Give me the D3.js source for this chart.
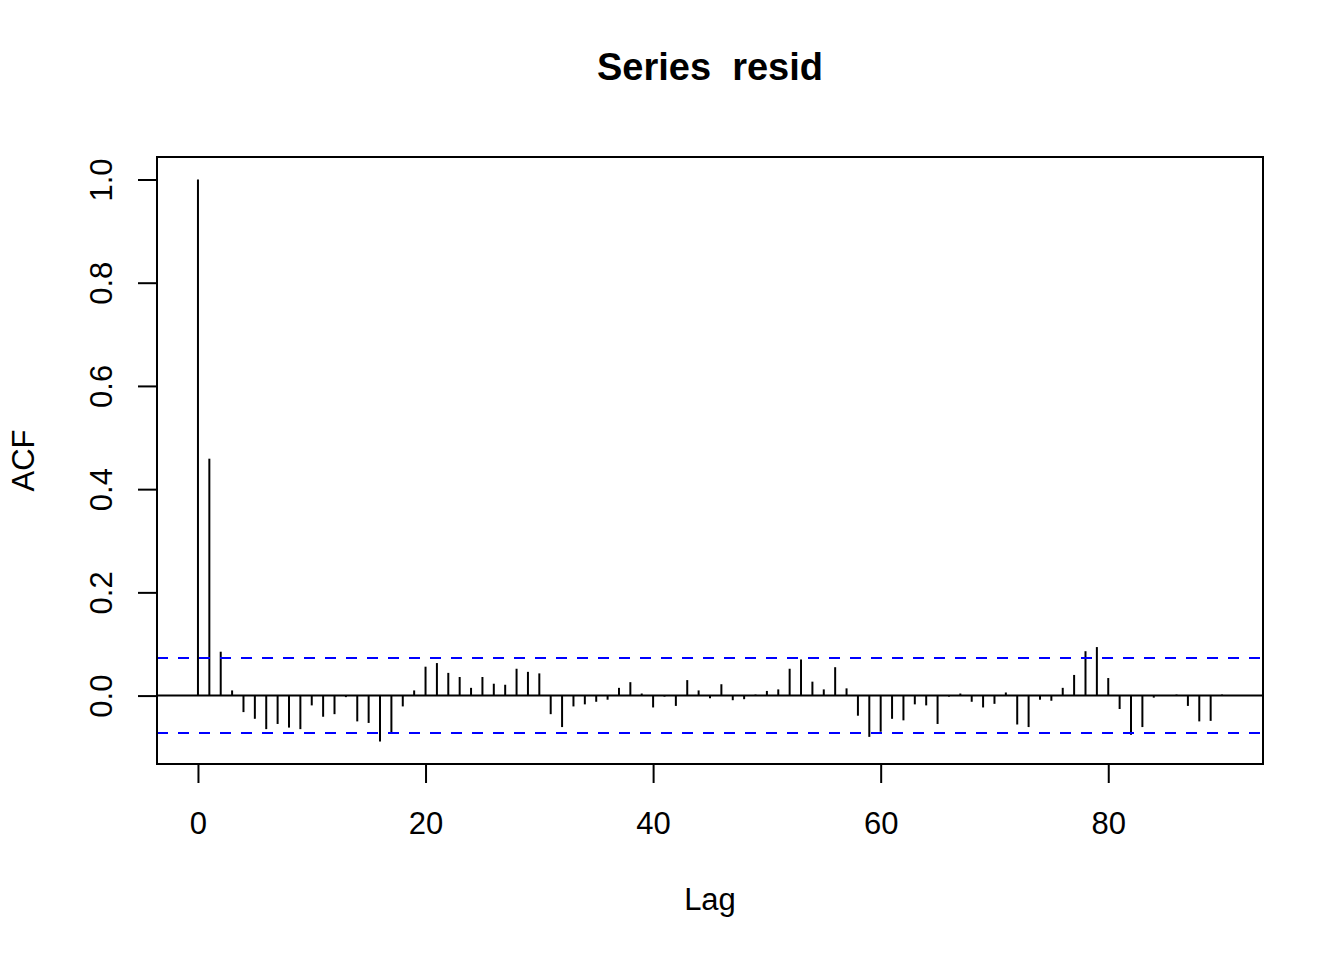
<!DOCTYPE html>
<html>
<head>
<meta charset="utf-8">
<script src="https://cdn.jsdelivr.net/npm/d3@7"></script>
<style>
  html, body { margin: 0; padding: 0; background: #fff; }
  svg { display: block; font-family: "Liberation Sans", Arial, Helvetica, sans-serif; }
</style>
</head>
<body>
<svg id="chart" width="1344" height="960"></svg>
<script>
const lags = d3.range(0, 91);
const acfValues = [
  1.000, 0.459, 0.085, 0.010, -0.032, -0.045, -0.065, -0.055, -0.062, -0.065,
  -0.019, -0.041, -0.036, -0.003, -0.050, -0.053, -0.089, -0.074, -0.021, 0.010,
  0.056, 0.063, 0.044, 0.036, 0.015, 0.036, 0.023, 0.021, 0.052, 0.046,
  0.043, -0.036, -0.061, -0.021, -0.017, -0.012, -0.008, 0.015, 0.026, 0.004,
  -0.023, -0.002, -0.020, 0.030, 0.010, -0.005, 0.022, -0.009, -0.007, 0.002,
  0.009, 0.012, 0.052, 0.070, 0.027, 0.012, 0.055, 0.014, -0.039, -0.080,
  -0.070, -0.045, -0.048, -0.017, -0.019, -0.055, -0.002, 0.004, -0.012, -0.023,
  -0.016, 0.006, -0.056, -0.061, -0.008, -0.010, 0.015, 0.040, 0.086, 0.094,
  0.034, -0.026, -0.076, -0.061, -0.004, 0.001, 0.002, -0.020, -0.050, -0.049,
  0.002
];
const ciBound = 0.0727;
const xTicks = [0, 20, 40, 60, 80];
const yTicks = [0.0, 0.2, 0.4, 0.6, 0.8, 1.0];
const yTickLabels = ["0.0", "0.2", "0.4", "0.6", "0.8", "1.0"];
const titleText = "Series  resid";
const xLabel = "Lag";
const yLabel = "ACF";

const plot = { left: 157, right: 1263, top: 157, bottom: 764 };
const svg = d3.select("#chart");

// R-style 4% extension
const xr = d3.extent(lags);
const xpad = (xr[1] - xr[0]) * 0.04;
const yr = [Math.min(d3.min(acfValues), -ciBound), Math.max(d3.max(acfValues), ciBound)];
const ypad = (yr[1] - yr[0]) * 0.04;

const x = d3.scaleLinear().domain([xr[0] - xpad, xr[1] + xpad]).range([plot.left, plot.right]);
const y = d3.scaleLinear().domain([yr[0] - ypad, yr[1] + ypad]).range([plot.bottom, plot.top]);

const lw = 2;
const fs = 31;

// bars (type = "h")
svg.append("g").selectAll("line").data(lags).join("line")
  .attr("x1", d => x(d)).attr("x2", d => x(d))
  .attr("y1", y(0)).attr("y2", (d, i) => y(acfValues[i]))
  .attr("stroke", "#000").attr("stroke-width", lw);

// zero line
svg.append("line")
  .attr("x1", plot.left).attr("x2", plot.right)
  .attr("y1", y(0)).attr("y2", y(0))
  .attr("stroke", "#000").attr("stroke-width", lw);

// confidence bounds
[ciBound, -ciBound].forEach(b => {
  svg.append("line")
    .attr("x1", plot.left).attr("x2", plot.right)
    .attr("y1", y(b)).attr("y2", y(b))
    .attr("stroke", "#0000FF").attr("stroke-width", lw)
    .attr("stroke-dasharray", "11,10");
});

// box
svg.append("rect")
  .attr("x", plot.left).attr("y", plot.top)
  .attr("width", plot.right - plot.left).attr("height", plot.bottom - plot.top)
  .attr("fill", "none").attr("stroke", "#000").attr("stroke-width", lw);

const tickLen = 19;
// x axis
const xAxis = d3.axisBottom(x).tickValues(xTicks).tickSize(tickLen).tickPadding(32).tickFormat(d3.format("d"));
const gx = svg.append("g").attr("transform", `translate(0,${plot.bottom})`).call(xAxis);
gx.select(".domain").attr("d", `M${x(xTicks[0])},0H${x(xTicks[xTicks.length-1])}`).attr("stroke-width", lw);
gx.selectAll(".tick line").attr("stroke-width", lw);
gx.selectAll(".tick text").attr("font-size", fs).attr("font-family", "Liberation Sans, Arial, sans-serif")
  .attr("fill", "#000").attr("dy", null).attr("y", 70);

// y axis
const yAxis = d3.axisLeft(y).tickValues(yTicks).tickSize(tickLen).tickFormat((d, i) => yTickLabels[i]);
const gy = svg.append("g").attr("transform", `translate(${plot.left},0)`).call(yAxis);
gy.select(".domain").attr("d", `M0,${y(yTicks[0])}V${y(yTicks[yTicks.length-1])}`).attr("stroke-width", lw);
gy.selectAll(".tick line").attr("stroke-width", lw);
gy.selectAll(".tick text")
  .attr("font-size", fs).attr("font-family", "Liberation Sans, Arial, sans-serif").attr("fill", "#000")
  .attr("x", null).attr("dy", null)
  .attr("text-anchor", "middle")
  .attr("transform", "translate(-45,0) rotate(-90)");

// title
svg.append("text").attr("x", (plot.left + plot.right) / 2).attr("y", 80)
  .attr("text-anchor", "middle").attr("font-size", 38).attr("font-weight", "bold")
  .style("white-space", "pre").attr("xml:space", "preserve")
  .text(titleText);

// x label
svg.append("text").attr("x", (plot.left + plot.right) / 2).attr("y", 910)
  .attr("text-anchor", "middle").attr("font-size", fs).text(xLabel);

// y label
svg.append("text").attr("transform", `translate(34,${(plot.top + plot.bottom) / 2}) rotate(-90)`)
  .attr("text-anchor", "middle").attr("font-size", fs).text(yLabel);
</script>
</body>
</html>
